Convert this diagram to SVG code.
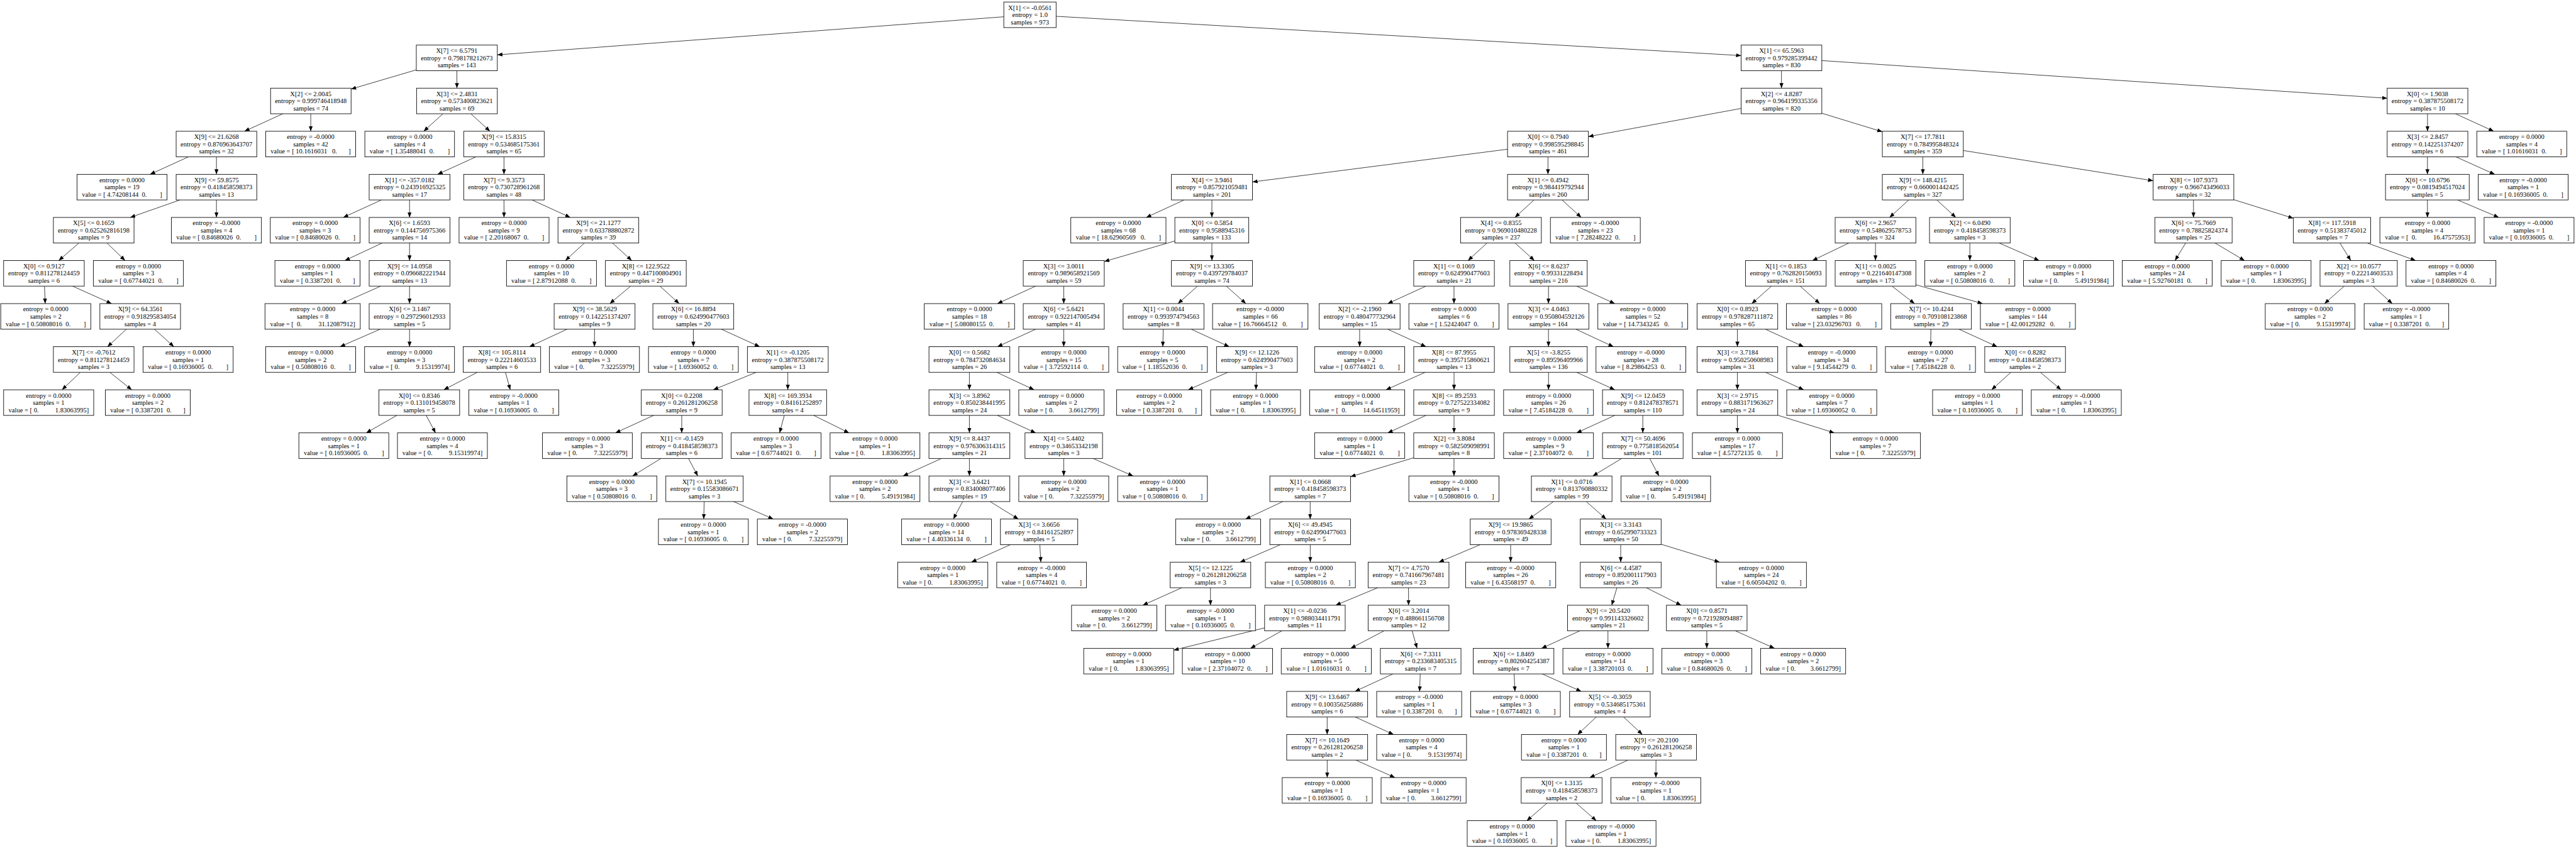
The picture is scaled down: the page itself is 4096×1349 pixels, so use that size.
<svg xmlns="http://www.w3.org/2000/svg" width="4096" height="1349" viewBox="0 0 4096 1349" xml:space="preserve">
<style>
.n rect{fill:#fff;stroke:#000;stroke-width:1.5}
.n text{font-family:"Liberation Serif","Times New Roman",serif;font-size:18.2px;text-anchor:middle;white-space:pre;fill:#000}
.e line{stroke:#000;stroke-width:1.3;fill:none;marker-end:url(#ah)}
</style>
<defs><marker id="ah" markerUnits="userSpaceOnUse" markerWidth="16" markerHeight="12" refX="14" refY="5.5" orient="auto"><path d="M0,0 L14,5.5 L0,11 z" fill="#000"/></marker></defs>
<rect x="0" y="0" width="4096" height="1349" fill="#fff"/>
<g transform="scale(0.57747)">
<g id="connectors" class="e">
<line x1="2764" y1="46.2" x2="1369.4" y2="151.1"/>
<line x1="2908" y1="44.9" x2="4794.2" y2="153.1"/>
<line x1="1146.3" y1="192.4" x2="966.7" y2="245.4"/>
<line x1="1258" y1="194.7" x2="1258.1" y2="242.9"/>
<line x1="778.7" y1="313.4" x2="673.2" y2="361.6"/>
<line x1="855.7" y1="313.4" x2="855.6" y2="361.6"/>
<line x1="1219.6" y1="313.4" x2="1166.7" y2="361.6"/>
<line x1="1296.6" y1="313.4" x2="1349.2" y2="361.6"/>
<line x1="596" y1="432.1" x2="596" y2="480.3"/>
<line x1="518.8" y1="432.1" x2="413.2" y2="480.3"/>
<line x1="1310.5" y1="432.1" x2="1204.9" y2="480.3"/>
<line x1="1387.7" y1="432.1" x2="1387.7" y2="480.3"/>
<line x1="596" y1="550.8" x2="596" y2="599"/>
<line x1="495.6" y1="550.8" x2="358.4" y2="599"/>
<line x1="217.3" y1="669.5" x2="161.7" y2="717.7"/>
<line x1="294.5" y1="669.5" x2="344.5" y2="717.7"/>
<line x1="122.5" y1="788.2" x2="124.5" y2="836.4"/>
<line x1="199.7" y1="788.2" x2="307.3" y2="836.4"/>
<line x1="348" y1="906.9" x2="296" y2="955.1"/>
<line x1="425.2" y1="906.9" x2="478.8" y2="955.1"/>
<line x1="221.2" y1="1025.6" x2="170.8" y2="1073.8"/>
<line x1="302.3" y1="1025.6" x2="362.7" y2="1073.8"/>
<line x1="1050.5" y1="550.8" x2="945" y2="599"/>
<line x1="1127.7" y1="550.8" x2="1127.7" y2="599"/>
<line x1="1387.7" y1="550.8" x2="1387.8" y2="599"/>
<line x1="1464.9" y1="550.8" x2="1570.4" y2="599"/>
<line x1="1052.4" y1="669.5" x2="949.5" y2="717.7"/>
<line x1="1127.7" y1="669.5" x2="1127.7" y2="717.7"/>
<line x1="1609.2" y1="669.5" x2="1556.8" y2="717.7"/>
<line x1="1686.4" y1="669.5" x2="1739.5" y2="717.7"/>
<line x1="1048.4" y1="788.2" x2="940.1" y2="836.4"/>
<line x1="1127.7" y1="788.2" x2="1127.7" y2="836.4"/>
<line x1="1736.4" y1="788.2" x2="1679.1" y2="836.4"/>
<line x1="1817.1" y1="788.2" x2="1870.2" y2="836.4"/>
<line x1="1046.9" y1="906.9" x2="936.3" y2="955.1"/>
<line x1="1127.7" y1="906.9" x2="1127.7" y2="955.1"/>
<line x1="1561.4" y1="906.9" x2="1457.8" y2="955.1"/>
<line x1="1637.1" y1="906.9" x2="1636.8" y2="955.1"/>
<line x1="1909.1" y1="906.9" x2="1909.2" y2="955.1"/>
<line x1="1986.3" y1="906.9" x2="2091.9" y2="955.1"/>
<line x1="1314.4" y1="1025.6" x2="1222" y2="1073.8"/>
<line x1="1391.7" y1="1025.6" x2="1405" y2="1073.8"/>
<line x1="2082.5" y1="1025.6" x2="1963.9" y2="1073.8"/>
<line x1="2169.2" y1="1025.6" x2="2169.2" y2="1073.8"/>
<line x1="1092.7" y1="1144.3" x2="1008.4" y2="1192.5"/>
<line x1="1173.4" y1="1144.3" x2="1199.3" y2="1192.5"/>
<line x1="1799.9" y1="1144.3" x2="1694.5" y2="1192.5"/>
<line x1="1877.1" y1="1144.3" x2="1877.1" y2="1192.5"/>
<line x1="2159.6" y1="1144.3" x2="2146.6" y2="1192.5"/>
<line x1="2240.5" y1="1144.3" x2="2338" y2="1192.5"/>
<line x1="1820" y1="1263" x2="1741.8" y2="1311.2"/>
<line x1="1895.8" y1="1263" x2="1921.3" y2="1311.2"/>
<line x1="1939" y1="1381.7" x2="1937.7" y2="1429.9"/>
<line x1="2019.9" y1="1381.7" x2="2129.3" y2="1429.9"/>
<line x1="4905.3" y1="194.7" x2="4905.3" y2="242.9"/>
<line x1="5016.4" y1="166.9" x2="6573.1" y2="270.7"/>
<line x1="4794.2" y1="298.7" x2="4373.6" y2="376.3"/>
<line x1="5016.4" y1="312" x2="5183" y2="362.9"/>
<line x1="4151" y1="411.1" x2="3448.7" y2="501.2"/>
<line x1="4262.3" y1="432.1" x2="4262.3" y2="480.3"/>
<line x1="3260.6" y1="550.8" x2="3156" y2="599"/>
<line x1="3337" y1="550.8" x2="3336.9" y2="599"/>
<line x1="4223.9" y1="550.8" x2="4171.3" y2="599"/>
<line x1="4301" y1="550.8" x2="4354" y2="599"/>
<line x1="3235" y1="663.9" x2="3040.6" y2="720.5"/>
<line x1="3336.9" y1="669.5" x2="3337" y2="717.7"/>
<line x1="4094.5" y1="669.5" x2="4042.1" y2="717.7"/>
<line x1="4171.8" y1="669.5" x2="4225" y2="717.7"/>
<line x1="2851.9" y1="788.2" x2="2746.4" y2="836.4"/>
<line x1="2929.05" y1="788.2" x2="2929.05" y2="836.4"/>
<line x1="3297.5" y1="788.2" x2="3243.4" y2="836.4"/>
<line x1="3376.6" y1="788.2" x2="3430.6" y2="836.4"/>
<line x1="3926.5" y1="788.2" x2="3821" y2="836.4"/>
<line x1="4003.6" y1="788.2" x2="4003.5" y2="836.4"/>
<line x1="4263.8" y1="788.2" x2="4263.7" y2="836.4"/>
<line x1="4341" y1="788.2" x2="4446.4" y2="836.4"/>
<line x1="2851.9" y1="906.9" x2="2746.4" y2="955.1"/>
<line x1="2929.05" y1="906.9" x2="2929.05" y2="955.1"/>
<line x1="3203" y1="906.9" x2="3201.8" y2="955.1"/>
<line x1="3280.1" y1="906.9" x2="3384.6" y2="955.1"/>
<line x1="3743.8" y1="906.9" x2="3743.8" y2="955.1"/>
<line x1="3821" y1="906.9" x2="3926.5" y2="955.1"/>
<line x1="4263.7" y1="906.9" x2="4263.8" y2="955.1"/>
<line x1="4339.2" y1="906.9" x2="4442.7" y2="955.1"/>
<line x1="2669.25" y1="1025.6" x2="2669.25" y2="1073.8"/>
<line x1="2744.5" y1="1025.6" x2="2847.4" y2="1073.8"/>
<line x1="3381" y1="1025.6" x2="3271.7" y2="1073.8"/>
<line x1="3459.8" y1="1025.6" x2="3458.3" y2="1073.8"/>
<line x1="3924.5" y1="1025.6" x2="3816.3" y2="1073.8"/>
<line x1="4003.7" y1="1025.6" x2="4003.7" y2="1073.8"/>
<line x1="4263.9" y1="1025.6" x2="4263.9" y2="1073.8"/>
<line x1="4341" y1="1025.6" x2="4446.4" y2="1073.8"/>
<line x1="2669.25" y1="1144.3" x2="2669.25" y2="1192.5"/>
<line x1="2746.4" y1="1144.3" x2="2851.9" y2="1192.5"/>
<line x1="3926.5" y1="1144.3" x2="3821" y2="1192.5"/>
<line x1="4003.7" y1="1144.3" x2="4003.7" y2="1192.5"/>
<line x1="4446.4" y1="1144.3" x2="4341" y2="1192.5"/>
<line x1="4523.45" y1="1144.3" x2="4523.45" y2="1192.5"/>
<line x1="2592.1" y1="1263" x2="2486.5" y2="1311.2"/>
<line x1="2669.25" y1="1263" x2="2669.25" y2="1311.2"/>
<line x1="2929.05" y1="1263" x2="2929.05" y2="1311.2"/>
<line x1="3009.8" y1="1263" x2="3120.2" y2="1311.2"/>
<line x1="3892.7" y1="1261" x2="3718.6" y2="1313.2"/>
<line x1="4003.6" y1="1263" x2="4003.5" y2="1311.2"/>
<line x1="4465.3" y1="1263" x2="4385.8" y2="1311.2"/>
<line x1="4542.4" y1="1263" x2="4568" y2="1311.2"/>
<line x1="2650.6" y1="1381.7" x2="2625" y2="1429.9"/>
<line x1="2726.2" y1="1381.7" x2="2804.2" y2="1429.9"/>
<line x1="3532.3" y1="1381.7" x2="3429.4" y2="1429.9"/>
<line x1="3607.55" y1="1381.7" x2="3607.55" y2="1429.9"/>
<line x1="4277.7" y1="1381.7" x2="4209.5" y2="1429.9"/>
<line x1="4367.7" y1="1381.7" x2="4422.5" y2="1429.9"/>
<line x1="2782.4" y1="1500.4" x2="2674.7" y2="1548.6"/>
<line x1="2863.2" y1="1500.4" x2="2866" y2="1548.6"/>
<line x1="3526" y1="1500.4" x2="3414.5" y2="1548.6"/>
<line x1="3607.7" y1="1500.4" x2="3607.9" y2="1548.6"/>
<line x1="4076.1" y1="1500.4" x2="3961.9" y2="1548.6"/>
<line x1="4159.6" y1="1500.4" x2="4159.6" y2="1548.6"/>
<line x1="4462.6" y1="1500.4" x2="4462.6" y2="1548.6"/>
<line x1="4573.9" y1="1499.3" x2="4735" y2="1548.6"/>
<line x1="3254.3" y1="1619.1" x2="3146.6" y2="1667.3"/>
<line x1="3333" y1="1619.1" x2="3333" y2="1667.3"/>
<line x1="3793.7" y1="1619.1" x2="3677.8" y2="1667.3"/>
<line x1="3878.4" y1="1619.1" x2="3878.4" y2="1667.3"/>
<line x1="4452.2" y1="1619.1" x2="4437.9" y2="1667.3"/>
<line x1="4533" y1="1619.1" x2="4629.1" y2="1667.3"/>
<line x1="4699.6" y1="1737.8" x2="4699.7" y2="1786"/>
<line x1="4778.4" y1="1737.8" x2="4886.1" y2="1786"/>
<line x1="3482.1" y1="1729.7" x2="3231.7" y2="1791"/>
<line x1="3529.7" y1="1737.8" x2="3443.1" y2="1786"/>
<line x1="3811.2" y1="1737.8" x2="3719.2" y2="1786"/>
<line x1="3888.3" y1="1737.8" x2="3901.9" y2="1786"/>
<line x1="4350.3" y1="1737.8" x2="4244.8" y2="1786"/>
<line x1="4427.5" y1="1737.8" x2="4427.5" y2="1786"/>
<line x1="3835.4" y1="1856.5" x2="3730.8" y2="1904.7"/>
<line x1="3910.6" y1="1856.5" x2="3908.9" y2="1904.7"/>
<line x1="4169.2" y1="1856.5" x2="4171.4" y2="1904.7"/>
<line x1="4246.4" y1="1856.5" x2="4354.1" y2="1904.7"/>
<line x1="3654.35" y1="1975.2" x2="3654.35" y2="2023.4"/>
<line x1="3731.6" y1="1975.2" x2="3837.2" y2="2023.4"/>
<line x1="4395.3" y1="1975.2" x2="4343.9" y2="2023.4"/>
<line x1="4470.7" y1="1975.2" x2="4522.3" y2="2023.4"/>
<line x1="3654.4" y1="2093.9" x2="3654.5" y2="2142.1"/>
<line x1="3733.2" y1="2093.9" x2="3841" y2="2142.1"/>
<line x1="4482.8" y1="2093.9" x2="4377.2" y2="2142.1"/>
<line x1="4559.8" y1="2093.9" x2="4559.5" y2="2142.1"/>
<line x1="4259.5" y1="2212.6" x2="4204.2" y2="2260.8"/>
<line x1="4340.2" y1="2212.6" x2="4395.4" y2="2260.8"/>
<line x1="5294.5" y1="432.1" x2="5294.5" y2="480.3"/>
<line x1="5406" y1="414.6" x2="5928.7" y2="497.9"/>
<line x1="6684.15" y1="313.4" x2="6684.15" y2="361.6"/>
<line x1="6761.2" y1="313.4" x2="6866.6" y2="361.6"/>
<line x1="5255.8" y1="550.8" x2="5202.9" y2="599"/>
<line x1="5332.9" y1="550.8" x2="5385.5" y2="599"/>
<line x1="6039.75" y1="550.8" x2="6039.75" y2="599"/>
<line x1="6150.8" y1="550.1" x2="6314.8" y2="601.2"/>
<line x1="6684" y1="432.1" x2="6683.9" y2="480.3"/>
<line x1="6762.4" y1="432.1" x2="6869.3" y2="480.3"/>
<line x1="5090.9" y1="669.5" x2="4990.6" y2="717.7"/>
<line x1="5164.2" y1="669.5" x2="5164.2" y2="717.7"/>
<line x1="5423.95" y1="669.5" x2="5423.95" y2="717.7"/>
<line x1="5504.7" y1="669.5" x2="5615" y2="717.7"/>
<line x1="6018.3" y1="669.5" x2="5988.9" y2="717.7"/>
<line x1="6099.1" y1="669.5" x2="6180.4" y2="717.7"/>
<line x1="6443" y1="669.5" x2="6472.8" y2="717.7"/>
<line x1="6518.4" y1="669.5" x2="6651.5" y2="717.7"/>
<line x1="6683.9" y1="550.8" x2="6684" y2="599"/>
<line x1="6766.9" y1="550.8" x2="6880.6" y2="599"/>
<line x1="4877.6" y1="788.2" x2="4823.5" y2="836.4"/>
<line x1="4956.7" y1="788.2" x2="5010.6" y2="836.4"/>
<line x1="5209.6" y1="788.2" x2="5271.7" y2="836.4"/>
<line x1="5275.3" y1="784.4" x2="5459.2" y2="836.4"/>
<line x1="6454.9" y1="788.2" x2="6400.5" y2="836.4"/>
<line x1="6533.7" y1="788.2" x2="6587.1" y2="836.4"/>
<line x1="4783.9" y1="906.9" x2="4783.9" y2="955.1"/>
<line x1="4861.1" y1="906.9" x2="4966.5" y2="955.1"/>
<line x1="5316.7" y1="906.9" x2="5315.9" y2="955.1"/>
<line x1="5394.1" y1="906.9" x2="5499.2" y2="955.1"/>
<line x1="4783.9" y1="1025.6" x2="4783.9" y2="1073.8"/>
<line x1="4861.1" y1="1025.6" x2="4966.5" y2="1073.8"/>
<line x1="5537.1" y1="1025.6" x2="5483.9" y2="1073.8"/>
<line x1="5618" y1="1025.6" x2="5675.2" y2="1073.8"/>
<line x1="4783.9" y1="1144.3" x2="4783.9" y2="1192.5"/>
<line x1="4895" y1="1143.8" x2="5051.1" y2="1192.5"/>
</g>
<g id="root" class="n"><rect x="2764" y="5.5" width="144" height="70.5"/><text x="2836" y="27">X[1] &lt;= -0.0561<tspan x="2836" dy="20">entropy = 1.0</tspan><tspan x="2836" dy="20">samples = 973</tspan></text></g>
<g id="A1" class="n"><rect x="1146.3" y="124.2" width="223.1" height="70.5"/><text x="1257.85" y="145.7">X[7] &lt;= 6.5791<tspan x="1257.85" dy="20">entropy = 0.798178212673</tspan><tspan x="1257.85" dy="20">samples = 143</tspan></text></g>
<g id="R1" class="n"><rect x="4794.2" y="124.2" width="222.2" height="70.5"/><text x="4905.3" y="145.7">X[1] &lt;= 65.5963<tspan x="4905.3" dy="20">entropy = 0.979285399442</tspan><tspan x="4905.3" dy="20">samples = 830</tspan></text></g>
<g id="A2" class="n"><rect x="745" y="242.9" width="221.7" height="70.5"/><text x="855.85" y="264.4">X[2] &lt;= 2.0045<tspan x="855.85" dy="20">entropy = 0.999746418948</tspan><tspan x="855.85" dy="20">samples = 74</tspan></text></g>
<g id="A3" class="n"><rect x="1147" y="242.9" width="222.4" height="70.5"/><text x="1258.2" y="264.4">X[3] &lt;= 2.4831<tspan x="1258.2" dy="20">entropy = 0.573400823621</tspan><tspan x="1258.2" dy="20">samples = 69</tspan></text></g>
<g id="R2" class="n"><rect x="4794.2" y="242.9" width="222.2" height="70.5"/><text x="4905.3" y="264.4">X[2] &lt;= 4.8287<tspan x="4905.3" dy="20">entropy = 0.964199335356</tspan><tspan x="4905.3" dy="20">samples = 820</tspan></text></g>
<g id="F1" class="n"><rect x="6573.1" y="242.9" width="222.1" height="70.5"/><text x="6684.15" y="264.4">X[0] &lt;= 1.9038<tspan x="6684.15" dy="20">entropy = 0.387875508172</tspan><tspan x="6684.15" dy="20">samples = 10</tspan></text></g>
<g id="A4" class="n"><rect x="485" y="361.6" width="222" height="70.5"/><text x="596" y="383.1">X[9] &lt;= 21.6268<tspan x="596" dy="20">entropy = 0.876963643707</tspan><tspan x="596" dy="20">samples = 32</tspan></text></g>
<g id="A5" class="n"><rect x="731.7" y="361.6" width="247.6" height="70.5"/><text x="855.5" y="383.1">entropy = -0.0000<tspan x="855.5" dy="20">samples = 42</tspan><tspan x="855.5" dy="20">value = [ 10.1616031   0.       ]</tspan></text></g>
<g id="A6" class="n"><rect x="1004.6" y="361.6" width="246.9" height="70.5"/><text x="1128.05" y="383.1">entropy = 0.0000<tspan x="1128.05" dy="20">samples = 4</tspan><tspan x="1128.05" dy="20">value = [ 1.35488041  0.        ]</tspan></text></g>
<g id="A7" class="n"><rect x="1276.8" y="361.6" width="221.7" height="70.5"/><text x="1387.65" y="383.1">X[9] &lt;= 15.8315<tspan x="1387.65" dy="20">entropy = 0.534685175361</tspan><tspan x="1387.65" dy="20">samples = 65</tspan></text></g>
<g id="M0" class="n"><rect x="4151" y="361.6" width="222.6" height="70.5"/><text x="4262.3" y="383.1">X[0] &lt;= 0.7940<tspan x="4262.3" dy="20">entropy = 0.998595298845</tspan><tspan x="4262.3" dy="20">samples = 461</tspan></text></g>
<g id="R3" class="n"><rect x="5183" y="361.6" width="223" height="70.5"/><text x="5294.5" y="383.1">X[7] &lt;= 17.7811<tspan x="5294.5" dy="20">entropy = 0.784995848324</tspan><tspan x="5294.5" dy="20">samples = 359</tspan></text></g>
<g id="F2" class="n"><rect x="6573.1" y="361.6" width="222.1" height="70.5"/><text x="6684.15" y="383.1">X[3] &lt;= 2.8457<tspan x="6684.15" dy="20">entropy = 0.142251374207</tspan><tspan x="6684.15" dy="20">samples = 6</tspan></text></g>
<g id="F3" class="n"><rect x="6819.9" y="361.6" width="247.6" height="70.5"/><text x="6943.7" y="383.1">entropy = 0.0000<tspan x="6943.7" dy="20">samples = 4</tspan><tspan x="6943.7" dy="20">value = [ 1.01616031  0.        ]</tspan></text></g>
<g id="B1" class="n"><rect x="212" y="480.3" width="248" height="70.5"/><text x="336" y="501.8">entropy = 0.0000<tspan x="336" dy="20">samples = 19</tspan><tspan x="336" dy="20">value = [ 4.74208144  0.        ]</tspan></text></g>
<g id="A8" class="n"><rect x="485" y="480.3" width="222" height="70.5"/><text x="596" y="501.8">X[9] &lt;= 59.8575<tspan x="596" dy="20">entropy = 0.418458598373</tspan><tspan x="596" dy="20">samples = 13</tspan></text></g>
<g id="A10" class="n"><rect x="1016.5" y="480.3" width="222.4" height="70.5"/><text x="1127.7" y="501.8">X[1] &lt;= -357.0182<tspan x="1127.7" dy="20">entropy = 0.243916925325</tspan><tspan x="1127.7" dy="20">samples = 17</tspan></text></g>
<g id="A11" class="n"><rect x="1276.8" y="480.3" width="221.7" height="70.5"/><text x="1387.65" y="501.8">X[7] &lt;= 9.3573<tspan x="1387.65" dy="20">entropy = 0.730728961268</tspan><tspan x="1387.65" dy="20">samples = 48</tspan></text></g>
<g id="M1" class="n"><rect x="3225.5" y="480.3" width="223.2" height="70.5"/><text x="3337.1" y="501.8">X[4] &lt;= 3.9461<tspan x="3337.1" dy="20">entropy = 0.857921059481</tspan><tspan x="3337.1" dy="20">samples = 201</tspan></text></g>
<g id="N1" class="n"><rect x="4151" y="480.3" width="222.6" height="70.5"/><text x="4262.3" y="501.8">X[1] &lt;= 0.4942<tspan x="4262.3" dy="20">entropy = 0.984419792944</tspan><tspan x="4262.3" dy="20">samples = 260</tspan></text></g>
<g id="R4" class="n"><rect x="5183" y="480.3" width="223" height="70.5"/><text x="5294.5" y="501.8">X[9] &lt;= 148.4215<tspan x="5294.5" dy="20">entropy = 0.660001442425</tspan><tspan x="5294.5" dy="20">samples = 327</tspan></text></g>
<g id="G1" class="n"><rect x="5928.7" y="480.3" width="222.1" height="70.5"/><text x="6039.75" y="501.8">X[8] &lt;= 107.9373<tspan x="6039.75" dy="20">entropy = 0.966743496033</tspan><tspan x="6039.75" dy="20">samples = 32</tspan></text></g>
<g id="F4" class="n"><rect x="6568.5" y="480.3" width="230.5" height="70.5"/><text x="6683.75" y="501.8">X[6] &lt;= 10.6796<tspan x="6683.75" dy="20">entropy = 0.0819494517024</tspan><tspan x="6683.75" dy="20">samples = 5</tspan></text></g>
<g id="F5" class="n"><rect x="6823.8" y="480.3" width="247.5" height="70.5"/><text x="6947.55" y="501.8">entropy = -0.0000<tspan x="6947.55" dy="20">samples = 1</tspan><tspan x="6947.55" dy="20">value = [ 0.16936005  0.        ]</tspan></text></g>
<g id="B2" class="n"><rect x="147" y="599" width="222" height="70.5"/><text x="258" y="620.5">X[5] &lt;= 0.1659<tspan x="258" dy="20">entropy = 0.625262816198</tspan><tspan x="258" dy="20">samples = 9</tspan></text></g>
<g id="A9" class="n"><rect x="472" y="599" width="247.8" height="70.5"/><text x="595.9" y="620.5">entropy = -0.0000<tspan x="595.9" dy="20">samples = 4</tspan><tspan x="595.9" dy="20">value = [ 0.84680026  0.        ]</tspan></text></g>
<g id="A12" class="n"><rect x="744.3" y="599" width="247" height="70.5"/><text x="867.8" y="620.5">entropy = 0.0000<tspan x="867.8" dy="20">samples = 3</tspan><tspan x="867.8" dy="20">value = [ 0.84680026  0.        ]</tspan></text></g>
<g id="A13" class="n"><rect x="1016.5" y="599" width="222.4" height="70.5"/><text x="1127.7" y="620.5">X[6] &lt;= 1.6593<tspan x="1127.7" dy="20">entropy = 0.144756975366</tspan><tspan x="1127.7" dy="20">samples = 14</tspan></text></g>
<g id="A14" class="n"><rect x="1264" y="599" width="247.8" height="70.5"/><text x="1387.9" y="620.5">entropy = 0.0000<tspan x="1387.9" dy="20">samples = 9</tspan><tspan x="1387.9" dy="20">value = [ 2.20168067  0.        ]</tspan></text></g>
<g id="A15" class="n"><rect x="1536.4" y="599" width="222.4" height="70.5"/><text x="1647.6" y="620.5">X[9] &lt;= 21.1277<tspan x="1647.6" dy="20">entropy = 0.633788802872</tspan><tspan x="1647.6" dy="20">samples = 39</tspan></text></g>
<g id="M2" class="n"><rect x="2948.5" y="599" width="262" height="70.5"/><text x="3079.5" y="620.5">entropy = 0.0000<tspan x="3079.5" dy="20">samples = 68</tspan><tspan x="3079.5" dy="20">value = [ 18.62960569   0.        ]</tspan></text></g>
<g id="M3" class="n"><rect x="3235" y="599" width="203.5" height="70.5"/><text x="3336.75" y="620.5">X[0] &lt;= 0.5854<tspan x="3336.75" dy="20">entropy = 0.9588945316</tspan><tspan x="3336.75" dy="20">samples = 133</tspan></text></g>
<g id="N2" class="n"><rect x="4021.6" y="599" width="222.5" height="70.5"/><text x="4132.85" y="620.5">X[4] &lt;= 0.8355<tspan x="4132.85" dy="20">entropy = 0.969010480228</tspan><tspan x="4132.85" dy="20">samples = 237</tspan></text></g>
<g id="N3" class="n"><rect x="4269" y="599" width="247.5" height="70.5"/><text x="4392.75" y="620.5">entropy = -0.0000<tspan x="4392.75" dy="20">samples = 23</tspan><tspan x="4392.75" dy="20">value = [ 7.28248222  0.        ]</tspan></text></g>
<g id="R5" class="n"><rect x="5053.1" y="599" width="222.2" height="70.5"/><text x="5164.2" y="620.5">X[6] &lt;= 2.9657<tspan x="5164.2" dy="20">entropy = 0.548629578753</tspan><tspan x="5164.2" dy="20">samples = 324</tspan></text></g>
<g id="R6" class="n"><rect x="5312.9" y="599" width="222.1" height="70.5"/><text x="5423.95" y="620.5">X[2] &lt;= 6.0490<tspan x="5423.95" dy="20">entropy = 0.418458598373</tspan><tspan x="5423.95" dy="20">samples = 3</tspan></text></g>
<g id="G2" class="n"><rect x="5933.4" y="599" width="212.7" height="70.5"/><text x="6039.75" y="620.5">X[6] &lt;= 75.7669<tspan x="6039.75" dy="20">entropy = 0.78825824374</tspan><tspan x="6039.75" dy="20">samples = 25</tspan></text></g>
<g id="G3" class="n"><rect x="6314.8" y="599" width="212.7" height="70.5"/><text x="6421.15" y="620.5">X[8] &lt;= 117.5918<tspan x="6421.15" dy="20">entropy = 0.51383745012</tspan><tspan x="6421.15" dy="20">samples = 7</tspan></text></g>
<g id="F6" class="n"><rect x="6553" y="599" width="262.3" height="70.5"/><text x="6684.15" y="620.5">entropy = 0.0000<tspan x="6684.15" dy="20">samples = 4</tspan><tspan x="6684.15" dy="20">value = [  0.          16.47575953]</tspan></text></g>
<g id="F7" class="n"><rect x="6840" y="599" width="247.6" height="70.5"/><text x="6963.8" y="620.5">entropy = -0.0000<tspan x="6963.8" dy="20">samples = 1</tspan><tspan x="6963.8" dy="20">value = [ 0.16936005  0.        ]</tspan></text></g>
<g id="C1" class="n"><rect x="10" y="717.7" width="222" height="70.5"/><text x="121" y="739.2">X[0] &lt;= 0.9127<tspan x="121" dy="20">entropy = 0.811278124459</tspan><tspan x="121" dy="20">samples = 6</tspan></text></g>
<g id="C2" class="n"><rect x="257" y="717.7" width="248" height="70.5"/><text x="381" y="739.2">entropy = 0.0000<tspan x="381" dy="20">samples = 3</tspan><tspan x="381" dy="20">value = [ 0.67744021  0.        ]</tspan></text></g>
<g id="A16" class="n"><rect x="757" y="717.7" width="234.3" height="70.5"/><text x="874.15" y="739.2">entropy = 0.0000<tspan x="874.15" dy="20">samples = 1</tspan><tspan x="874.15" dy="20">value = [ 0.3387201  0.       ]</tspan></text></g>
<g id="A17" class="n"><rect x="1016.5" y="717.7" width="222.4" height="70.5"/><text x="1127.7" y="739.2">X[9] &lt;= 14.0958<tspan x="1127.7" dy="20">entropy = 0.096682221944</tspan><tspan x="1127.7" dy="20">samples = 13</tspan></text></g>
<g id="A18" class="n"><rect x="1394.6" y="717.7" width="247.7" height="70.5"/><text x="1518.45" y="739.2">entropy = 0.0000<tspan x="1518.45" dy="20">samples = 10</tspan><tspan x="1518.45" dy="20">value = [ 2.87912088  0.        ]</tspan></text></g>
<g id="A22" class="n"><rect x="1667" y="717.7" width="222.5" height="70.5"/><text x="1778.25" y="739.2">X[8] &lt;= 122.9522<tspan x="1778.25" dy="20">entropy = 0.447100804901</tspan><tspan x="1778.25" dy="20">samples = 29</tspan></text></g>
<g id="M4" class="n"><rect x="2817.5" y="717.7" width="223.1" height="70.5"/><text x="2929.05" y="739.2">X[3] &lt;= 3.0011<tspan x="2929.05" dy="20">entropy = 0.989658921569</tspan><tspan x="2929.05" dy="20">samples = 59</tspan></text></g>
<g id="M5" class="n"><rect x="3225.5" y="717.7" width="223.2" height="70.5"/><text x="3337.1" y="739.2">X[9] &lt;= 13.3305<tspan x="3337.1" dy="20">entropy = 0.439729784037</tspan><tspan x="3337.1" dy="20">samples = 74</tspan></text></g>
<g id="N4" class="n"><rect x="3892.7" y="717.7" width="222" height="70.5"/><text x="4003.7" y="739.2">X[1] &lt;= 0.1069<tspan x="4003.7" dy="20">entropy = 0.624990477603</tspan><tspan x="4003.7" dy="20">samples = 21</tspan></text></g>
<g id="N5" class="n"><rect x="4157.4" y="717.7" width="213" height="70.5"/><text x="4263.9" y="739.2">X[6] &lt;= 8.6237<tspan x="4263.9" dy="20">entropy = 0.99331228494</tspan><tspan x="4263.9" dy="20">samples = 216</tspan></text></g>
<g id="R7" class="n"><rect x="4806.1" y="717.7" width="222.2" height="70.5"/><text x="4917.2" y="739.2">X[1] &lt;= 0.1853<tspan x="4917.2" dy="20">entropy = 0.762820150693</tspan><tspan x="4917.2" dy="20">samples = 151</tspan></text></g>
<g id="R8" class="n"><rect x="5053.1" y="717.7" width="222.2" height="70.5"/><text x="5164.2" y="739.2">X[1] &lt;= 0.0025<tspan x="5164.2" dy="20">entropy = 0.221640147308</tspan><tspan x="5164.2" dy="20">samples = 173</tspan></text></g>
<g id="R9" class="n"><rect x="5300" y="717.7" width="247.9" height="70.5"/><text x="5423.95" y="739.2">entropy = 0.0000<tspan x="5423.95" dy="20">samples = 2</tspan><tspan x="5423.95" dy="20">value = [ 0.50808016  0.        ]</tspan></text></g>
<g id="R10" class="n"><rect x="5571.8" y="717.7" width="247.9" height="70.5"/><text x="5695.75" y="739.2">entropy = 0.0000<tspan x="5695.75" dy="20">samples = 1</tspan><tspan x="5695.75" dy="20">value = [ 0.          5.49191984]</tspan></text></g>
<g id="G4" class="n"><rect x="5843.6" y="717.7" width="247.6" height="70.5"/><text x="5967.4" y="739.2">entropy = 0.0000<tspan x="5967.4" dy="20">samples = 24</tspan><tspan x="5967.4" dy="20">value = [ 5.92760181  0.        ]</tspan></text></g>
<g id="G5" class="n"><rect x="6116" y="717.7" width="247.5" height="70.5"/><text x="6239.75" y="739.2">entropy = 0.0000<tspan x="6239.75" dy="20">samples = 1</tspan><tspan x="6239.75" dy="20">value = [ 0.          1.83063995]</tspan></text></g>
<g id="G6" class="n"><rect x="6388.2" y="717.7" width="212.8" height="70.5"/><text x="6494.6" y="739.2">X[2] &lt;= 10.0577<tspan x="6494.6" dy="20">entropy = 0.22214603533</tspan><tspan x="6494.6" dy="20">samples = 3</tspan></text></g>
<g id="G7" class="n"><rect x="6625" y="717.7" width="247.5" height="70.5"/><text x="6748.75" y="739.2">entropy = 0.0000<tspan x="6748.75" dy="20">samples = 4</tspan><tspan x="6748.75" dy="20">value = [ 0.84680026  0.        ]</tspan></text></g>
<g id="D1" class="n"><rect x="2" y="836.4" width="248" height="70.5"/><text x="126" y="857.9">entropy = 0.0000<tspan x="126" dy="20">samples = 2</tspan><tspan x="126" dy="20">value = [ 0.50808016  0.        ]</tspan></text></g>
<g id="D2" class="n"><rect x="275" y="836.4" width="222" height="70.5"/><text x="386" y="857.9">X[9] &lt;= 64.3561<tspan x="386" dy="20">entropy = 0.918295834054</tspan><tspan x="386" dy="20">samples = 4</tspan></text></g>
<g id="A19" class="n"><rect x="729.6" y="836.4" width="262.4" height="70.5"/><text x="860.8" y="857.9">entropy = 0.0000<tspan x="860.8" dy="20">samples = 8</tspan><tspan x="860.8" dy="20">value = [  0.          31.12087912]</tspan></text></g>
<g id="A20" class="n"><rect x="1016.5" y="836.4" width="222.4" height="70.5"/><text x="1127.7" y="857.9">X[6] &lt;= 3.1467<tspan x="1127.7" dy="20">entropy = 0.297296012933</tspan><tspan x="1127.7" dy="20">samples = 5</tspan></text></g>
<g id="A21" class="n"><rect x="1525.8" y="836.4" width="222.8" height="70.5"/><text x="1637.2" y="857.9">X[9] &lt;= 38.5629<tspan x="1637.2" dy="20">entropy = 0.142251374207</tspan><tspan x="1637.2" dy="20">samples = 9</tspan></text></g>
<g id="A23" class="n"><rect x="1797.7" y="836.4" width="222.6" height="70.5"/><text x="1909" y="857.9">X[6] &lt;= 16.8894<tspan x="1909" dy="20">entropy = 0.624990477603</tspan><tspan x="1909" dy="20">samples = 20</tspan></text></g>
<g id="M4a" class="n"><rect x="2545" y="836.4" width="248.6" height="70.5"/><text x="2669.3" y="857.9">entropy = 0.0000<tspan x="2669.3" dy="20">samples = 18</tspan><tspan x="2669.3" dy="20">value = [ 5.08080155  0.        ]</tspan></text></g>
<g id="M6" class="n"><rect x="2817.5" y="836.4" width="223.1" height="70.5"/><text x="2929.05" y="857.9">X[6] &lt;= 5.6421<tspan x="2929.05" dy="20">entropy = 0.922147005494</tspan><tspan x="2929.05" dy="20">samples = 41</tspan></text></g>
<g id="M7" class="n"><rect x="3092.5" y="836.4" width="222.5" height="70.5"/><text x="3203.75" y="857.9">X[1] &lt;= 0.0044<tspan x="3203.75" dy="20">entropy = 0.993974794563</tspan><tspan x="3203.75" dy="20">samples = 8</tspan></text></g>
<g id="M8" class="n"><rect x="3338.8" y="836.4" width="262.7" height="70.5"/><text x="3470.15" y="857.9">entropy = -0.0000<tspan x="3470.15" dy="20">samples = 66</tspan><tspan x="3470.15" dy="20">value = [ 16.76664512   0.        ]</tspan></text></g>
<g id="M31" class="n"><rect x="3632.5" y="836.4" width="222.6" height="70.5"/><text x="3743.8" y="857.9">X[2] &lt;= -2.1960<tspan x="3743.8" dy="20">entropy = 0.480477732964</tspan><tspan x="3743.8" dy="20">samples = 15</tspan></text></g>
<g id="M32" class="n"><rect x="3879.3" y="836.4" width="248.1" height="70.5"/><text x="4003.35" y="857.9">entropy = 0.0000<tspan x="4003.35" dy="20">samples = 6</tspan><tspan x="4003.35" dy="20">value = [ 1.52424047  0.        ]</tspan></text></g>
<g id="M33" class="n"><rect x="4152.3" y="836.4" width="222.6" height="70.5"/><text x="4263.6" y="857.9">X[3] &lt;= 4.0463<tspan x="4263.6" dy="20">entropy = 0.950804592126</tspan><tspan x="4263.6" dy="20">samples = 164</tspan></text></g>
<g id="M34" class="n"><rect x="4399.7" y="836.4" width="247.5" height="70.5"/><text x="4523.45" y="857.9">entropy = 0.0000<tspan x="4523.45" dy="20">samples = 52</tspan><tspan x="4523.45" dy="20">value = [ 14.7343245   0.       ]</tspan></text></g>
<g id="R11" class="n"><rect x="4672.8" y="836.4" width="222.2" height="70.5"/><text x="4783.9" y="857.9">X[0] &lt;= 0.8923<tspan x="4783.9" dy="20">entropy = 0.978287111872</tspan><tspan x="4783.9" dy="20">samples = 65</tspan></text></g>
<g id="R12" class="n"><rect x="4918.9" y="836.4" width="262.4" height="70.5"/><text x="5050.1" y="857.9">entropy = 0.0000<tspan x="5050.1" dy="20">samples = 86</tspan><tspan x="5050.1" dy="20">value = [ 23.03296703   0.        ]</tspan></text></g>
<g id="R13" class="n"><rect x="5206" y="836.4" width="222.3" height="70.5"/><text x="5317.15" y="857.9">X[7] &lt;= 10.4244<tspan x="5317.15" dy="20">entropy = 0.709108123868</tspan><tspan x="5317.15" dy="20">samples = 29</tspan></text></g>
<g id="R14" class="n"><rect x="5453" y="836.4" width="261.6" height="70.5"/><text x="5583.8" y="857.9">entropy = 0.0000<tspan x="5583.8" dy="20">samples = 144</tspan><tspan x="5583.8" dy="20">value = [ 42.00129282   0.        ]</tspan></text></g>
<g id="G8" class="n"><rect x="6237.4" y="836.4" width="246.8" height="70.5"/><text x="6360.8" y="857.9">entropy = 0.0000<tspan x="6360.8" dy="20">samples = 2</tspan><tspan x="6360.8" dy="20">value = [ 0.          9.15319974]</tspan></text></g>
<g id="G9" class="n"><rect x="6509.7" y="836.4" width="232.9" height="70.5"/><text x="6626.15" y="857.9">entropy = -0.0000<tspan x="6626.15" dy="20">samples = 1</tspan><tspan x="6626.15" dy="20">value = [ 0.3387201  0.       ]</tspan></text></g>
<g id="E1" class="n"><rect x="147" y="955.1" width="222" height="70.5"/><text x="258" y="976.6">X[7] &lt;= -0.7612<tspan x="258" dy="20">entropy = 0.811278124459</tspan><tspan x="258" dy="20">samples = 3</tspan></text></g>
<g id="E2" class="n"><rect x="394" y="955.1" width="248" height="70.5"/><text x="518" y="976.6">entropy = 0.0000<tspan x="518" dy="20">samples = 1</tspan><tspan x="518" dy="20">value = [ 0.16936005  0.        ]</tspan></text></g>
<g id="A20a" class="n"><rect x="731.7" y="955.1" width="247.6" height="70.5"/><text x="855.5" y="976.6">entropy = 0.0000<tspan x="855.5" dy="20">samples = 2</tspan><tspan x="855.5" dy="20">value = [ 0.50808016  0.        ]</tspan></text></g>
<g id="A20b" class="n"><rect x="1003.9" y="955.1" width="247.6" height="70.5"/><text x="1127.7" y="976.6">entropy = 0.0000<tspan x="1127.7" dy="20">samples = 3</tspan><tspan x="1127.7" dy="20">value = [ 0.          9.15319974]</tspan></text></g>
<g id="A24" class="n"><rect x="1275.4" y="955.1" width="213.3" height="70.5"/><text x="1382.05" y="976.6">X[8] &lt;= 105.8114<tspan x="1382.05" dy="20">entropy = 0.22214603533</tspan><tspan x="1382.05" dy="20">samples = 6</tspan></text></g>
<g id="A25" class="n"><rect x="1512.5" y="955.1" width="248.2" height="70.5"/><text x="1636.6" y="976.6">entropy = 0.0000<tspan x="1636.6" dy="20">samples = 3</tspan><tspan x="1636.6" dy="20">value = [ 0.          7.32255979]</tspan></text></g>
<g id="A30" class="n"><rect x="1785.6" y="955.1" width="247.4" height="70.5"/><text x="1909.3" y="976.6">entropy = 0.0000<tspan x="1909.3" dy="20">samples = 7</tspan><tspan x="1909.3" dy="20">value = [ 1.69360052  0.        ]</tspan></text></g>
<g id="A31" class="n"><rect x="2057.9" y="955.1" width="222.6" height="70.5"/><text x="2169.2" y="976.6">X[1] &lt;= -0.1205<tspan x="2169.2" dy="20">entropy = 0.387875508172</tspan><tspan x="2169.2" dy="20">samples = 13</tspan></text></g>
<g id="M9" class="n"><rect x="2557.9" y="955.1" width="222.7" height="70.5"/><text x="2669.25" y="976.6">X[0] &lt;= 0.5682<tspan x="2669.25" dy="20">entropy = 0.784732084634</tspan><tspan x="2669.25" dy="20">samples = 26</tspan></text></g>
<g id="M10" class="n"><rect x="2805.2" y="955.1" width="247.7" height="70.5"/><text x="2929.05" y="976.6">entropy = 0.0000<tspan x="2929.05" dy="20">samples = 15</tspan><tspan x="2929.05" dy="20">value = [ 3.72592114  0.        ]</tspan></text></g>
<g id="M11" class="n"><rect x="3077.5" y="955.1" width="247" height="70.5"/><text x="3201" y="976.6">entropy = 0.0000<tspan x="3201" dy="20">samples = 5</tspan><tspan x="3201" dy="20">value = [ 1.18552036  0.        ]</tspan></text></g>
<g id="M12" class="n"><rect x="3349.7" y="955.1" width="222.5" height="70.5"/><text x="3460.95" y="976.6">X[9] &lt;= 12.1226<tspan x="3460.95" dy="20">entropy = 0.624990477603</tspan><tspan x="3460.95" dy="20">samples = 3</tspan></text></g>
<g id="M35" class="n"><rect x="3619.8" y="955.1" width="248.1" height="70.5"/><text x="3743.85" y="976.6">entropy = 0.0000<tspan x="3743.85" dy="20">samples = 2</tspan><tspan x="3743.85" dy="20">value = [ 0.67744021  0.        ]</tspan></text></g>
<g id="M36" class="n"><rect x="3892.7" y="955.1" width="222" height="70.5"/><text x="4003.7" y="976.6">X[8] &lt;= 87.9955<tspan x="4003.7" dy="20">entropy = 0.395715860621</tspan><tspan x="4003.7" dy="20">samples = 13</tspan></text></g>
<g id="M37" class="n"><rect x="4157.4" y="955.1" width="213" height="70.5"/><text x="4263.9" y="976.6">X[5] &lt;= -3.8255<tspan x="4263.9" dy="20">entropy = 0.89596409966</tspan><tspan x="4263.9" dy="20">samples = 136</tspan></text></g>
<g id="M38" class="n"><rect x="4394.6" y="955.1" width="247.4" height="70.5"/><text x="4518.3" y="976.6">entropy = -0.0000<tspan x="4518.3" dy="20">samples = 28</tspan><tspan x="4518.3" dy="20">value = [ 8.29864253  0.        ]</tspan></text></g>
<g id="R15" class="n"><rect x="4672.8" y="955.1" width="222.2" height="70.5"/><text x="4783.9" y="976.6">X[3] &lt;= 3.7184<tspan x="4783.9" dy="20">entropy = 0.950250608983</tspan><tspan x="4783.9" dy="20">samples = 31</tspan></text></g>
<g id="R16" class="n"><rect x="4919.8" y="955.1" width="247.8" height="70.5"/><text x="5043.7" y="976.6">entropy = -0.0000<tspan x="5043.7" dy="20">samples = 34</tspan><tspan x="5043.7" dy="20">value = [ 9.14544279  0.        ]</tspan></text></g>
<g id="R17" class="n"><rect x="5191.5" y="955.1" width="247.9" height="70.5"/><text x="5315.45" y="976.6">entropy = 0.0000<tspan x="5315.45" dy="20">samples = 27</tspan><tspan x="5315.45" dy="20">value = [ 7.45184228  0.        ]</tspan></text></g>
<g id="R18" class="n"><rect x="5465" y="955.1" width="222.2" height="70.5"/><text x="5576.1" y="976.6">X[0] &lt;= 0.8282<tspan x="5576.1" dy="20">entropy = 0.418458598373</tspan><tspan x="5576.1" dy="20">samples = 2</tspan></text></g>
<g id="F1a" class="n"><rect x="10" y="1073.8" width="248" height="70.5"/><text x="134" y="1095.3">entropy = 0.0000<tspan x="134" dy="20">samples = 1</tspan><tspan x="134" dy="20">value = [ 0.          1.83063995]</tspan></text></g>
<g id="F2a" class="n"><rect x="290" y="1073.8" width="234" height="70.5"/><text x="407" y="1095.3">entropy = 0.0000<tspan x="407" dy="20">samples = 2</tspan><tspan x="407" dy="20">value = [ 0.3387201  0.       ]</tspan></text></g>
<g id="A26" class="n"><rect x="1043.2" y="1073.8" width="222.4" height="70.5"/><text x="1154.4" y="1095.3">X[0] &lt;= 0.8346<tspan x="1154.4" dy="20">entropy = 0.131019458078</tspan><tspan x="1154.4" dy="20">samples = 5</tspan></text></g>
<g id="A27" class="n"><rect x="1290.8" y="1073.8" width="247.7" height="70.5"/><text x="1414.65" y="1095.3">entropy = -0.0000<tspan x="1414.65" dy="20">samples = 1</tspan><tspan x="1414.65" dy="20">value = [ 0.16936005  0.        ]</tspan></text></g>
<g id="A32" class="n"><rect x="1765.8" y="1073.8" width="222.6" height="70.5"/><text x="1877.1" y="1095.3">X[0] &lt;= 0.2208<tspan x="1877.1" dy="20">entropy = 0.261281206258</tspan><tspan x="1877.1" dy="20">samples = 9</tspan></text></g>
<g id="A33" class="n"><rect x="2062.4" y="1073.8" width="213.6" height="70.5"/><text x="2169.2" y="1095.3">X[8] &lt;= 169.3934<tspan x="2169.2" dy="20">entropy = 0.84161252897</tspan><tspan x="2169.2" dy="20">samples = 4</tspan></text></g>
<g id="M13" class="n"><rect x="2557.9" y="1073.8" width="222.7" height="70.5"/><text x="2669.25" y="1095.3">X[3] &lt;= 3.8962<tspan x="2669.25" dy="20">entropy = 0.850238441995</tspan><tspan x="2669.25" dy="20">samples = 24</tspan></text></g>
<g id="M14" class="n"><rect x="2805.2" y="1073.8" width="234.8" height="70.5"/><text x="2922.6" y="1095.3">entropy = 0.0000<tspan x="2922.6" dy="20">samples = 2</tspan><tspan x="2922.6" dy="20">value = [ 0.         3.6612799]</tspan></text></g>
<g id="M15" class="n"><rect x="3074.7" y="1073.8" width="234.1" height="70.5"/><text x="3191.75" y="1095.3">entropy = 0.0000<tspan x="3191.75" dy="20">samples = 2</tspan><tspan x="3191.75" dy="20">value = [ 0.3387201  0.       ]</tspan></text></g>
<g id="M16" class="n"><rect x="3333.4" y="1073.8" width="247.6" height="70.5"/><text x="3457.2" y="1095.3">entropy = 0.0000<tspan x="3457.2" dy="20">samples = 1</tspan><tspan x="3457.2" dy="20">value = [ 0.          1.83063995]</tspan></text></g>
<g id="M39" class="n"><rect x="3606.4" y="1073.8" width="261.5" height="70.5"/><text x="3737.15" y="1095.3">entropy = 0.0000<tspan x="3737.15" dy="20">samples = 4</tspan><tspan x="3737.15" dy="20">value = [  0.          14.64511959]</tspan></text></g>
<g id="M40" class="n"><rect x="3892.7" y="1073.8" width="222" height="70.5"/><text x="4003.7" y="1095.3">X[8] &lt;= 89.2593<tspan x="4003.7" dy="20">entropy = 0.727522334082</tspan><tspan x="4003.7" dy="20">samples = 9</tspan></text></g>
<g id="M41" class="n"><rect x="4140.2" y="1073.8" width="247.4" height="70.5"/><text x="4263.9" y="1095.3">entropy = 0.0000<tspan x="4263.9" dy="20">samples = 26</tspan><tspan x="4263.9" dy="20">value = [ 7.45184228  0.        ]</tspan></text></g>
<g id="M42" class="n"><rect x="4412.5" y="1073.8" width="221.9" height="70.5"/><text x="4523.45" y="1095.3">X[9] &lt;= 12.0459<tspan x="4523.45" dy="20">entropy = 0.812478378571</tspan><tspan x="4523.45" dy="20">samples = 110</tspan></text></g>
<g id="R19" class="n"><rect x="4672.8" y="1073.8" width="222.2" height="70.5"/><text x="4783.9" y="1095.3">X[3] &lt;= 2.9715<tspan x="4783.9" dy="20">entropy = 0.883171963627</tspan><tspan x="4783.9" dy="20">samples = 24</tspan></text></g>
<g id="R20" class="n"><rect x="4919.8" y="1073.8" width="247.8" height="70.5"/><text x="5043.7" y="1095.3">entropy = 0.0000<tspan x="5043.7" dy="20">samples = 7</tspan><tspan x="5043.7" dy="20">value = [ 1.69360052  0.        ]</tspan></text></g>
<g id="R21" class="n"><rect x="5321.4" y="1073.8" width="247" height="70.5"/><text x="5444.9" y="1095.3">entropy = 0.0000<tspan x="5444.9" dy="20">samples = 1</tspan><tspan x="5444.9" dy="20">value = [ 0.16936005  0.        ]</tspan></text></g>
<g id="R22" class="n"><rect x="5593.2" y="1073.8" width="247.8" height="70.5"/><text x="5717.1" y="1095.3">entropy = -0.0000<tspan x="5717.1" dy="20">samples = 1</tspan><tspan x="5717.1" dy="20">value = [ 0.          1.83063995]</tspan></text></g>
<g id="A28" class="n"><rect x="822.9" y="1192.5" width="247.6" height="70.5"/><text x="946.7" y="1214">entropy = 0.0000<tspan x="946.7" dy="20">samples = 1</tspan><tspan x="946.7" dy="20">value = [ 0.16936005  0.        ]</tspan></text></g>
<g id="A29" class="n"><rect x="1094.4" y="1192.5" width="247.6" height="70.5"/><text x="1218.2" y="1214">entropy = 0.0000<tspan x="1218.2" dy="20">samples = 4</tspan><tspan x="1218.2" dy="20">value = [ 0.          9.15319974]</tspan></text></g>
<g id="A34" class="n"><rect x="1493.6" y="1192.5" width="247.4" height="70.5"/><text x="1617.3" y="1214">entropy = 0.0000<tspan x="1617.3" dy="20">samples = 3</tspan><tspan x="1617.3" dy="20">value = [ 0.          7.32255979]</tspan></text></g>
<g id="A35" class="n"><rect x="1765.8" y="1192.5" width="222.6" height="70.5"/><text x="1877.1" y="1214">X[1] &lt;= -0.1459<tspan x="1877.1" dy="20">entropy = 0.418458598373</tspan><tspan x="1877.1" dy="20">samples = 6</tspan></text></g>
<g id="A36" class="n"><rect x="2013.3" y="1192.5" width="247.4" height="70.5"/><text x="2137" y="1214">entropy = 0.0000<tspan x="2137" dy="20">samples = 3</tspan><tspan x="2137" dy="20">value = [ 0.67744021  0.        ]</tspan></text></g>
<g id="A37" class="n"><rect x="2285.6" y="1192.5" width="247.4" height="70.5"/><text x="2409.3" y="1214">entropy = 0.0000<tspan x="2409.3" dy="20">samples = 1</tspan><tspan x="2409.3" dy="20">value = [ 0.          1.83063995]</tspan></text></g>
<g id="M17" class="n"><rect x="2557.9" y="1192.5" width="222.7" height="70.5"/><text x="2669.25" y="1214">X[9] &lt;= 8.4437<tspan x="2669.25" dy="20">entropy = 0.976306314315</tspan><tspan x="2669.25" dy="20">samples = 21</tspan></text></g>
<g id="M18" class="n"><rect x="2822.3" y="1192.5" width="213.5" height="70.5"/><text x="2929.05" y="1214">X[4] &lt;= 5.4402<tspan x="2929.05" dy="20">entropy = 0.34653342198</tspan><tspan x="2929.05" dy="20">samples = 3</tspan></text></g>
<g id="M43" class="n"><rect x="3619.8" y="1192.5" width="248.1" height="70.5"/><text x="3743.85" y="1214">entropy = 0.0000<tspan x="3743.85" dy="20">samples = 1</tspan><tspan x="3743.85" dy="20">value = [ 0.67744021  0.        ]</tspan></text></g>
<g id="M44" class="n"><rect x="3892.7" y="1192.5" width="222" height="70.5"/><text x="4003.7" y="1214">X[2] &lt;= 3.8084<tspan x="4003.7" dy="20">entropy = 0.582509098991</tspan><tspan x="4003.7" dy="20">samples = 8</tspan></text></g>
<g id="M45" class="n"><rect x="4140.2" y="1192.5" width="247.4" height="70.5"/><text x="4263.9" y="1214">entropy = 0.0000<tspan x="4263.9" dy="20">samples = 9</tspan><tspan x="4263.9" dy="20">value = [ 2.37104072  0.        ]</tspan></text></g>
<g id="M46" class="n"><rect x="4412.5" y="1192.5" width="221.9" height="70.5"/><text x="4523.45" y="1214">X[7] &lt;= 50.4696<tspan x="4523.45" dy="20">entropy = 0.775818562054</tspan><tspan x="4523.45" dy="20">samples = 101</tspan></text></g>
<g id="R19a" class="n"><rect x="4660" y="1192.5" width="248" height="70.5"/><text x="4784" y="1214">entropy = 0.0000<tspan x="4784" dy="20">samples = 17</tspan><tspan x="4784" dy="20">value = [ 4.57272135  0.        ]</tspan></text></g>
<g id="R19b" class="n"><rect x="5040" y="1192.5" width="248" height="70.5"/><text x="5164" y="1214">entropy = 0.0000<tspan x="5164" dy="20">samples = 7</tspan><tspan x="5164" dy="20">value = [ 0.          7.32255979]</tspan></text></g>
<g id="A38" class="n"><rect x="1560.9" y="1311.2" width="247.6" height="70.5"/><text x="1684.7" y="1332.7">entropy = 0.0000<tspan x="1684.7" dy="20">samples = 3</tspan><tspan x="1684.7" dy="20">value = [ 0.50808016  0.        ]</tspan></text></g>
<g id="A39" class="n"><rect x="1833.4" y="1311.2" width="213" height="70.5"/><text x="1939.9" y="1332.7">X[7] &lt;= 10.1945<tspan x="1939.9" dy="20">entropy = 0.15583086671</tspan><tspan x="1939.9" dy="20">samples = 3</tspan></text></g>
<g id="M17a" class="n"><rect x="2285.6" y="1311.2" width="247.4" height="70.5"/><text x="2409.3" y="1332.7">entropy = 0.0000<tspan x="2409.3" dy="20">samples = 2</tspan><tspan x="2409.3" dy="20">value = [ 0.          5.49191984]</tspan></text></g>
<g id="M19" class="n"><rect x="2557.9" y="1311.2" width="222.7" height="70.5"/><text x="2669.25" y="1332.7">X[3] &lt;= 3.6421<tspan x="2669.25" dy="20">entropy = 0.834008077406</tspan><tspan x="2669.25" dy="20">samples = 19</tspan></text></g>
<g id="M20" class="n"><rect x="2805.2" y="1311.2" width="247.7" height="70.5"/><text x="2929.05" y="1332.7">entropy = 0.0000<tspan x="2929.05" dy="20">samples = 2</tspan><tspan x="2929.05" dy="20">value = [ 0.          7.32255979]</tspan></text></g>
<g id="M21" class="n"><rect x="3077.5" y="1311.2" width="247" height="70.5"/><text x="3201" y="1332.7">entropy = 0.0000<tspan x="3201" dy="20">samples = 1</tspan><tspan x="3201" dy="20">value = [ 0.50808016  0.        ]</tspan></text></g>
<g id="M26" class="n"><rect x="3496.5" y="1311.2" width="222.1" height="70.5"/><text x="3607.55" y="1332.7">X[1] &lt;= 0.0668<tspan x="3607.55" dy="20">entropy = 0.418458598373</tspan><tspan x="3607.55" dy="20">samples = 7</tspan></text></g>
<g id="M47" class="n"><rect x="3879.3" y="1311.2" width="248.1" height="70.5"/><text x="4003.35" y="1332.7">entropy = -0.0000<tspan x="4003.35" dy="20">samples = 1</tspan><tspan x="4003.35" dy="20">value = [ 0.50808016  0.        ]</tspan></text></g>
<g id="M48" class="n"><rect x="4216.7" y="1311.2" width="221.9" height="70.5"/><text x="4327.65" y="1332.7">X[1] &lt;= 0.0716<tspan x="4327.65" dy="20">entropy = 0.813760880332</tspan><tspan x="4327.65" dy="20">samples = 99</tspan></text></g>
<g id="M49" class="n"><rect x="4463.5" y="1311.2" width="246.6" height="70.5"/><text x="4586.8" y="1332.7">entropy = 0.0000<tspan x="4586.8" dy="20">samples = 2</tspan><tspan x="4586.8" dy="20">value = [ 0.          5.49191984]</tspan></text></g>
<g id="A40" class="n"><rect x="1813" y="1429.9" width="247.5" height="70.5"/><text x="1936.75" y="1451.4">entropy = 0.0000<tspan x="1936.75" dy="20">samples = 1</tspan><tspan x="1936.75" dy="20">value = [ 0.16936005  0.        ]</tspan></text></g>
<g id="A41" class="n"><rect x="2085.3" y="1429.9" width="248.1" height="70.5"/><text x="2209.35" y="1451.4">entropy = -0.0000<tspan x="2209.35" dy="20">samples = 2</tspan><tspan x="2209.35" dy="20">value = [ 0.          7.32255979]</tspan></text></g>
<g id="M22" class="n"><rect x="2482.6" y="1429.9" width="247.5" height="70.5"/><text x="2606.35" y="1451.4">entropy = 0.0000<tspan x="2606.35" dy="20">samples = 14</tspan><tspan x="2606.35" dy="20">value = [ 4.40336134  0.        ]</tspan></text></g>
<g id="M23" class="n"><rect x="2754.7" y="1429.9" width="212.9" height="70.5"/><text x="2861.15" y="1451.4">X[3] &lt;= 3.6656<tspan x="2861.15" dy="20">entropy = 0.84161252897</tspan><tspan x="2861.15" dy="20">samples = 5</tspan></text></g>
<g id="M27" class="n"><rect x="3237.2" y="1429.9" width="234" height="70.5"/><text x="3354.2" y="1451.4">entropy = 0.0000<tspan x="3354.2" dy="20">samples = 2</tspan><tspan x="3354.2" dy="20">value = [ 0.         3.6612799]</tspan></text></g>
<g id="M28" class="n"><rect x="3496.5" y="1429.9" width="222.1" height="70.5"/><text x="3607.55" y="1451.4">X[6] &lt;= 49.4945<tspan x="3607.55" dy="20">entropy = 0.624990477603</tspan><tspan x="3607.55" dy="20">samples = 5</tspan></text></g>
<g id="M50" class="n"><rect x="4048.3" y="1429.9" width="222.6" height="70.5"/><text x="4159.6" y="1451.4">X[9] &lt;= 19.9865<tspan x="4159.6" dy="20">entropy = 0.978369428338</tspan><tspan x="4159.6" dy="20">samples = 49</tspan></text></g>
<g id="M51" class="n"><rect x="4351.3" y="1429.9" width="222.6" height="70.5"/><text x="4462.6" y="1451.4">X[3] &lt;= 3.3143<tspan x="4462.6" dy="20">entropy = 0.652990733323</tspan><tspan x="4462.6" dy="20">samples = 50</tspan></text></g>
<g id="M24" class="n"><rect x="2471.8" y="1548.6" width="248.2" height="70.5"/><text x="2595.9" y="1570.1">entropy = 0.0000<tspan x="2595.9" dy="20">samples = 1</tspan><tspan x="2595.9" dy="20">value = [ 0.          1.83063995]</tspan></text></g>
<g id="M25" class="n"><rect x="2744.5" y="1548.6" width="247" height="70.5"/><text x="2868" y="1570.1">entropy = -0.0000<tspan x="2868" dy="20">samples = 4</tspan><tspan x="2868" dy="20">value = [ 0.67744021  0.        ]</tspan></text></g>
<g id="M29" class="n"><rect x="3222.1" y="1548.6" width="221.8" height="70.5"/><text x="3333" y="1570.1">X[5] &lt;= 12.1225<tspan x="3333" dy="20">entropy = 0.261281206258</tspan><tspan x="3333" dy="20">samples = 3</tspan></text></g>
<g id="M30" class="n"><rect x="3484.2" y="1548.6" width="247.8" height="70.5"/><text x="3608.1" y="1570.1">entropy = 0.0000<tspan x="3608.1" dy="20">samples = 2</tspan><tspan x="3608.1" dy="20">value = [ 0.50808016  0.        ]</tspan></text></g>
<g id="M52" class="n"><rect x="3767.1" y="1548.6" width="222.6" height="70.5"/><text x="3878.4" y="1570.1">X[7] &lt;= 4.7570<tspan x="3878.4" dy="20">entropy = 0.741667967481</tspan><tspan x="3878.4" dy="20">samples = 23</tspan></text></g>
<g id="M53" class="n"><rect x="4035.6" y="1548.6" width="248.1" height="70.5"/><text x="4159.65" y="1570.1">entropy = -0.0000<tspan x="4159.65" dy="20">samples = 26</tspan><tspan x="4159.65" dy="20">value = [ 6.43568197  0.        ]</tspan></text></g>
<g id="M54" class="n"><rect x="4351.3" y="1548.6" width="222.6" height="70.5"/><text x="4462.6" y="1570.1">X[6] &lt;= 4.4587<tspan x="4462.6" dy="20">entropy = 0.892001117903</tspan><tspan x="4462.6" dy="20">samples = 26</tspan></text></g>
<g id="M51b" class="n"><rect x="4726" y="1548.6" width="248" height="70.5"/><text x="4850" y="1570.1">entropy = 0.0000<tspan x="4850" dy="20">samples = 24</tspan><tspan x="4850" dy="20">value = [ 6.60504202  0.        ]</tspan></text></g>
<g id="M55" class="n"><rect x="2950.5" y="1667.3" width="234.8" height="70.5"/><text x="3067.9" y="1688.8">entropy = 0.0000<tspan x="3067.9" dy="20">samples = 2</tspan><tspan x="3067.9" dy="20">value = [ 0.         3.6612799]</tspan></text></g>
<g id="M56" class="n"><rect x="3209.2" y="1667.3" width="247.7" height="70.5"/><text x="3333.05" y="1688.8">entropy = -0.0000<tspan x="3333.05" dy="20">samples = 1</tspan><tspan x="3333.05" dy="20">value = [ 0.16936005  0.        ]</tspan></text></g>
<g id="M57" class="n"><rect x="3482.1" y="1667.3" width="221.9" height="70.5"/><text x="3593.05" y="1688.8">X[1] &lt;= -0.0236<tspan x="3593.05" dy="20">entropy = 0.988034411791</tspan><tspan x="3593.05" dy="20">samples = 11</tspan></text></g>
<g id="M64" class="n"><rect x="3767.1" y="1667.3" width="222.6" height="70.5"/><text x="3878.4" y="1688.8">X[6] &lt;= 3.2014<tspan x="3878.4" dy="20">entropy = 0.488661156708</tspan><tspan x="3878.4" dy="20">samples = 12</tspan></text></g>
<g id="M65" class="n"><rect x="4316.2" y="1667.3" width="222.6" height="70.5"/><text x="4427.5" y="1688.8">X[9] &lt;= 20.5420<tspan x="4427.5" dy="20">entropy = 0.991143326602</tspan><tspan x="4427.5" dy="20">samples = 21</tspan></text></g>
<g id="M54b" class="n"><rect x="4588.5" y="1667.3" width="222" height="70.5"/><text x="4699.5" y="1688.8">X[0] &lt;= 0.8571<tspan x="4699.5" dy="20">entropy = 0.721928094887</tspan><tspan x="4699.5" dy="20">samples = 5</tspan></text></g>
<g id="M58" class="n"><rect x="2984" y="1786" width="247.7" height="70.5"/><text x="3107.85" y="1807.5">entropy = 0.0000<tspan x="3107.85" dy="20">samples = 1</tspan><tspan x="3107.85" dy="20">value = [ 0.          1.83063995]</tspan></text></g>
<g id="M59" class="n"><rect x="3255.6" y="1786" width="248.4" height="70.5"/><text x="3379.8" y="1807.5">entropy = 0.0000<tspan x="3379.8" dy="20">samples = 10</tspan><tspan x="3379.8" dy="20">value = [ 2.37104072  0.        ]</tspan></text></g>
<g id="M60" class="n"><rect x="3527.9" y="1786" width="248.1" height="70.5"/><text x="3651.95" y="1807.5">entropy = 0.0000<tspan x="3651.95" dy="20">samples = 5</tspan><tspan x="3651.95" dy="20">value = [ 1.01616031  0.        ]</tspan></text></g>
<g id="M66" class="n"><rect x="3800.9" y="1786" width="221.9" height="70.5"/><text x="3911.85" y="1807.5">X[6] &lt;= 7.3311<tspan x="3911.85" dy="20">entropy = 0.233683405315</tspan><tspan x="3911.85" dy="20">samples = 7</tspan></text></g>
<g id="M67" class="n"><rect x="4056.6" y="1786" width="222" height="70.5"/><text x="4167.6" y="1807.5">X[6] &lt;= 1.8469<tspan x="4167.6" dy="20">entropy = 0.802604254387</tspan><tspan x="4167.6" dy="20">samples = 7</tspan></text></g>
<g id="M68" class="n"><rect x="4303.4" y="1786" width="248.1" height="70.5"/><text x="4427.45" y="1807.5">entropy = 0.0000<tspan x="4427.45" dy="20">samples = 14</tspan><tspan x="4427.45" dy="20">value = [ 3.38720103  0.        ]</tspan></text></g>
<g id="M54b1" class="n"><rect x="4575.8" y="1786" width="248" height="70.5"/><text x="4699.8" y="1807.5">entropy = 0.0000<tspan x="4699.8" dy="20">samples = 3</tspan><tspan x="4699.8" dy="20">value = [ 0.84680026  0.        ]</tspan></text></g>
<g id="M54b2" class="n"><rect x="4848" y="1786" width="234" height="70.5"/><text x="4965" y="1807.5">entropy = 0.0000<tspan x="4965" dy="20">samples = 2</tspan><tspan x="4965" dy="20">value = [ 0.         3.6612799]</tspan></text></g>
<g id="M61" class="n"><rect x="3542.9" y="1904.7" width="222.9" height="70.5"/><text x="3654.35" y="1926.2">X[9] &lt;= 13.6467<tspan x="3654.35" dy="20">entropy = 0.100356256886</tspan><tspan x="3654.35" dy="20">samples = 6</tspan></text></g>
<g id="M69" class="n"><rect x="3790.7" y="1904.7" width="234" height="70.5"/><text x="3907.7" y="1926.2">entropy = -0.0000<tspan x="3907.7" dy="20">samples = 1</tspan><tspan x="3907.7" dy="20">value = [ 0.3387201  0.       ]</tspan></text></g>
<g id="M70" class="n"><rect x="4049.6" y="1904.7" width="246.8" height="70.5"/><text x="4173" y="1926.2">entropy = 0.0000<tspan x="4173" dy="20">samples = 3</tspan><tspan x="4173" dy="20">value = [ 0.67744021  0.        ]</tspan></text></g>
<g id="M71" class="n"><rect x="4321.9" y="1904.7" width="222" height="70.5"/><text x="4432.9" y="1926.2">X[5] &lt;= -0.3059<tspan x="4432.9" dy="20">entropy = 0.534685175361</tspan><tspan x="4432.9" dy="20">samples = 4</tspan></text></g>
<g id="M62" class="n"><rect x="3542.9" y="2023.4" width="222.9" height="70.5"/><text x="3654.35" y="2044.9">X[7] &lt;= 10.1649<tspan x="3654.35" dy="20">entropy = 0.261281206258</tspan><tspan x="3654.35" dy="20">samples = 2</tspan></text></g>
<g id="M72" class="n"><rect x="3790.7" y="2023.4" width="247.4" height="70.5"/><text x="3914.4" y="2044.9">entropy = 0.0000<tspan x="3914.4" dy="20">samples = 4</tspan><tspan x="3914.4" dy="20">value = [ 0.          9.15319974]</tspan></text></g>
<g id="M73" class="n"><rect x="4189.3" y="2023.4" width="234" height="70.5"/><text x="4306.3" y="2044.9">entropy = 0.0000<tspan x="4306.3" dy="20">samples = 1</tspan><tspan x="4306.3" dy="20">value = [ 0.3387201  0.       ]</tspan></text></g>
<g id="M74" class="n"><rect x="4448.9" y="2023.4" width="222.2" height="70.5"/><text x="4560" y="2044.9">X[9] &lt;= 20.2100<tspan x="4560" dy="20">entropy = 0.261281206258</tspan><tspan x="4560" dy="20">samples = 3</tspan></text></g>
<g id="M63" class="n"><rect x="3530.6" y="2142.1" width="248" height="70.5"/><text x="3654.6" y="2163.6">entropy = 0.0000<tspan x="3654.6" dy="20">samples = 1</tspan><tspan x="3654.6" dy="20">value = [ 0.16936005  0.        ]</tspan></text></g>
<g id="M75" class="n"><rect x="3802.8" y="2142.1" width="234.1" height="70.5"/><text x="3919.85" y="2163.6">entropy = 0.0000<tspan x="3919.85" dy="20">samples = 1</tspan><tspan x="3919.85" dy="20">value = [ 0.         3.6612799]</tspan></text></g>
<g id="M76" class="n"><rect x="4188.6" y="2142.1" width="222.6" height="70.5"/><text x="4299.9" y="2163.6">X[0] &lt;= 1.3135<tspan x="4299.9" dy="20">entropy = 0.418458598373</tspan><tspan x="4299.9" dy="20">samples = 2</tspan></text></g>
<g id="M77" class="n"><rect x="4435.5" y="2142.1" width="247.5" height="70.5"/><text x="4559.25" y="2163.6">entropy = -0.0000<tspan x="4559.25" dy="20">samples = 1</tspan><tspan x="4559.25" dy="20">value = [ 0.          1.83063995]</tspan></text></g>
<g id="M78" class="n"><rect x="4040" y="2260.8" width="247.5" height="70.5"/><text x="4163.75" y="2282.3">entropy = 0.0000<tspan x="4163.75" dy="20">samples = 1</tspan><tspan x="4163.75" dy="20">value = [ 0.16936005  0.        ]</tspan></text></g>
<g id="M79" class="n"><rect x="4311.7" y="2260.8" width="248.1" height="70.5"/><text x="4435.75" y="2282.3">entropy = -0.0000<tspan x="4435.75" dy="20">samples = 1</tspan><tspan x="4435.75" dy="20">value = [ 0.          1.83063995]</tspan></text></g>
</g>
</svg>
